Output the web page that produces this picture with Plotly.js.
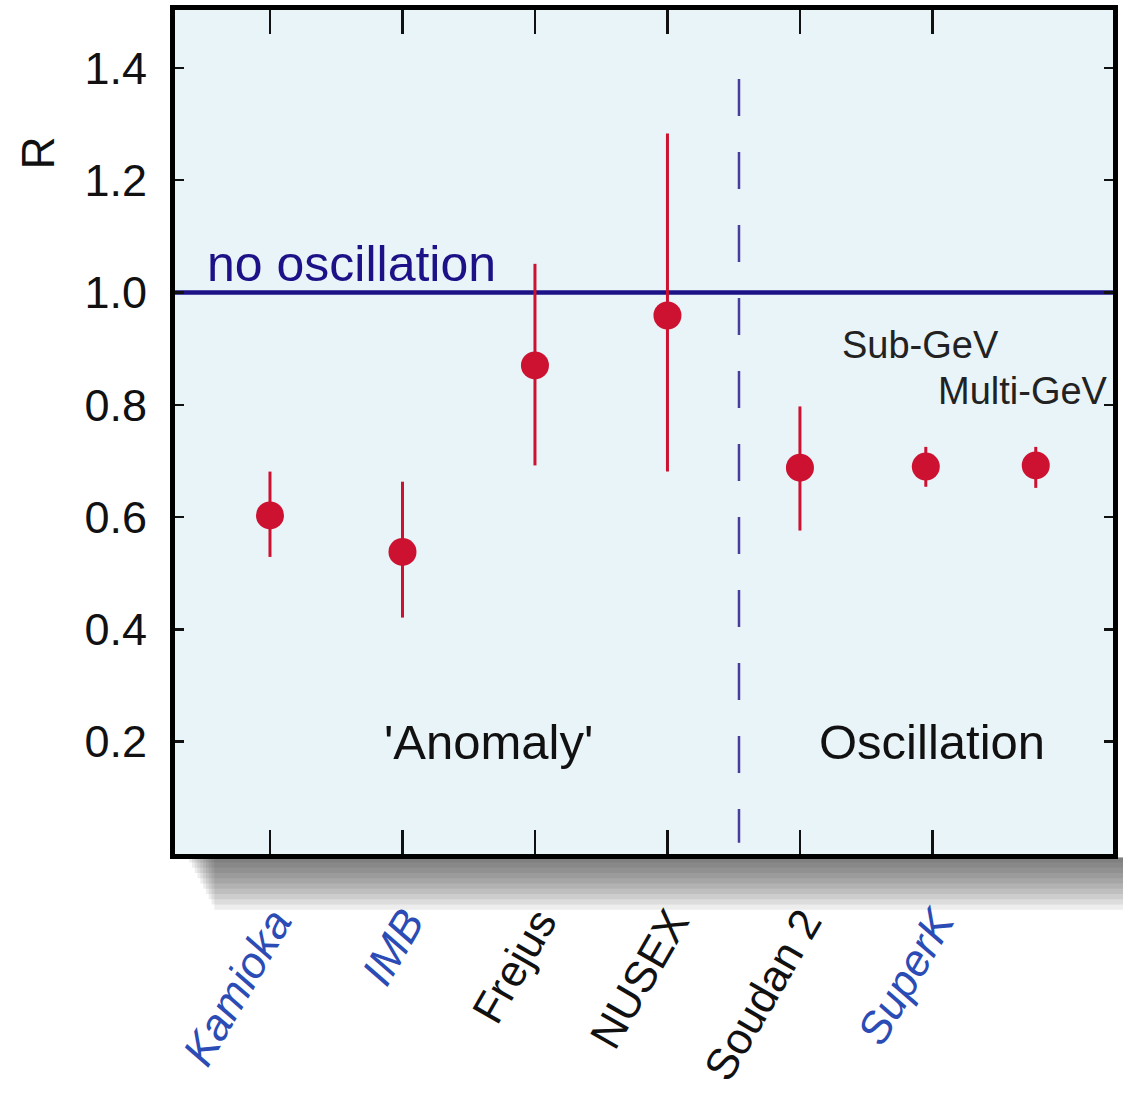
<!DOCTYPE html>
<html>
<head>
<meta charset="utf-8">
<script src="https://cdn.plot.ly/plotly-3.0.1.min.js"></script>
<style>html,body{margin:0;padding:0;background:#fff;} #chart{width:1123px;height:1097px;}</style>
</head>
<body>
<div id="chart"></div>
<script>
// ---- data ----
const experiments = ['Kamioka', 'IMB', 'Frejus', 'NUSEX', 'Soudan 2', 'SuperK Sub-GeV', 'SuperK Multi-GeV'];
const xPos = [1, 2, 3, 4, 5, 5.95, 6.78];
const R = [0.603, 0.538, 0.870, 0.959, 0.688, 0.690, 0.692];
const errUp = [0.078, 0.125, 0.181, 0.324, 0.109, 0.035, 0.033];
const errDown = [0.074, 0.117, 0.178, 0.278, 0.112, 0.036, 0.040];
const tickVals = [1, 2, 3, 4, 5, 6];
const tickLabels = ['Kamioka', 'IMB', 'Frejus', 'NUSEX', 'Soudan 2', 'SuperK'];
const tickBlue = [true, true, false, false, false, true];
const yTicks = [0.2, 0.4, 0.6, 0.8, 1.0, 1.2, 1.4];
const noOscValue = 1.0;
const boundaryX = 4.54;

const FONT = '"Liberation Sans", Arial, Helvetica, sans-serif';
const BLUE = '#2b4bb5';
const NAVY = '#1c1187';
const RED = '#cc1131';

const tickText = tickLabels.map((t, i) => tickBlue[i]
  ? '<span style="color:' + BLUE + '"><i>' + t + '</i></span>'
  : t);

const trace = {
  type: 'scatter', mode: 'markers',
  x: xPos, y: R, text: experiments,
  marker: {color: RED, size: 28},
  error_y: {type: 'data', symmetric: false, array: errUp, arrayminus: errDown,
            color: RED, thickness: 3, width: 0},
  hoverinfo: 'text+y', showlegend: false
};

// soft shadow under plot frame
const shadow = [];
const nS = 10;
for (let k = 1; k <= nS; k++) {
  shadow.push({type: 'rect', xref: 'paper', yref: 'paper', layer: 'below',
    x0: 0.012 + k * 0.003, x1: 1.02, y0: -0.004 - k * 0.0062, y1: -0.004,
    fillcolor: 'rgba(50,50,50,0.085)', line: {width: 0}});
}

const layout = {
  width: 1123, height: 1097,
  margin: {l: 175, r: 10, t: 10, b: 243},
  paper_bgcolor: '#ffffff',
  plot_bgcolor: '#e9f4f8',
  font: {family: FONT, color: '#111', size: 46},
  showlegend: false,
  xaxis: {
    range: [0.283, 7.363], tickvals: tickVals, ticktext: tickText,
    tickangle: -60, tickfont: {size: 44, family: FONT, color: '#111'},
    ticks: 'inside', ticklen: 24, tickwidth: 2.5, tickcolor: '#111',
    ticklabelstandoff: 20, ticklabelshift: 4,
    showline: true, linewidth: 5, linecolor: '#000', mirror: 'ticks',
    showgrid: false, zeroline: false
  },
  yaxis: {
    range: [0, 1.503], tickvals: yTicks, ticktext: yTicks.map(v => v.toFixed(1)),
    tickfont: {size: 45, family: FONT, color: '#111'},
    ticks: 'inside', ticklen: 9, tickwidth: 2.5, tickcolor: '#111',
    ticklabelstandoff: 14,
    showline: true, linewidth: 5, linecolor: '#000', mirror: 'ticks',
    showgrid: false, zeroline: false
  },
  shapes: shadow.concat([
    {type: 'line', xref: 'paper', yref: 'y', x0: 0, x1: 1, y0: noOscValue, y1: noOscValue,
     line: {color: NAVY, width: 4.5}, layer: 'below'},
    {type: 'line', xref: 'x', yref: 'y', x0: boundaryX, x1: boundaryX, y0: 1.38, y1: 0.02,
     line: {color: '#4a3c9c', width: 2.5, dash: '37px,36px'}, layer: 'below'}
  ]),
  annotations: [
    {text: 'no oscillation', xref: 'x', yref: 'y', x: 0.51, y: 1.05, xanchor: 'left', yanchor: 'middle',
     showarrow: false, font: {size: 50, color: NAVY, family: FONT}},
    {text: "'Anomaly'", xref: 'x', yref: 'y', x: 2.65, y: 0.2, xanchor: 'center', yanchor: 'middle',
     showarrow: false, font: {size: 49, color: '#111', family: FONT}},
    {text: 'Oscillation', xref: 'x', yref: 'y', x: 6.0, y: 0.2, xanchor: 'center', yanchor: 'middle',
     showarrow: false, font: {size: 49, color: '#111', family: FONT}},
    {text: 'Sub-GeV', xref: 'x', yref: 'y', x: 5.3, y: 0.907, xanchor: 'left', yanchor: 'middle',
     showarrow: false, font: {size: 38, color: '#222', family: FONT}},
    {text: 'Multi-GeV', xref: 'x', yref: 'y', x: 6.03, y: 0.825, xanchor: 'left', yanchor: 'middle',
     showarrow: false, font: {size: 38, color: '#222', family: FONT}},
    {text: 'R', xref: 'paper', yref: 'paper', x: -0.146, y: 0.83, xanchor: 'center', yanchor: 'middle',
     textangle: -90, showarrow: false, font: {size: 46, color: '#111', family: FONT}}
  ]
};

Plotly.newPlot('chart', [trace], layout, {staticPlot: true, displayModeBar: false});
</script>
</body>
</html>
